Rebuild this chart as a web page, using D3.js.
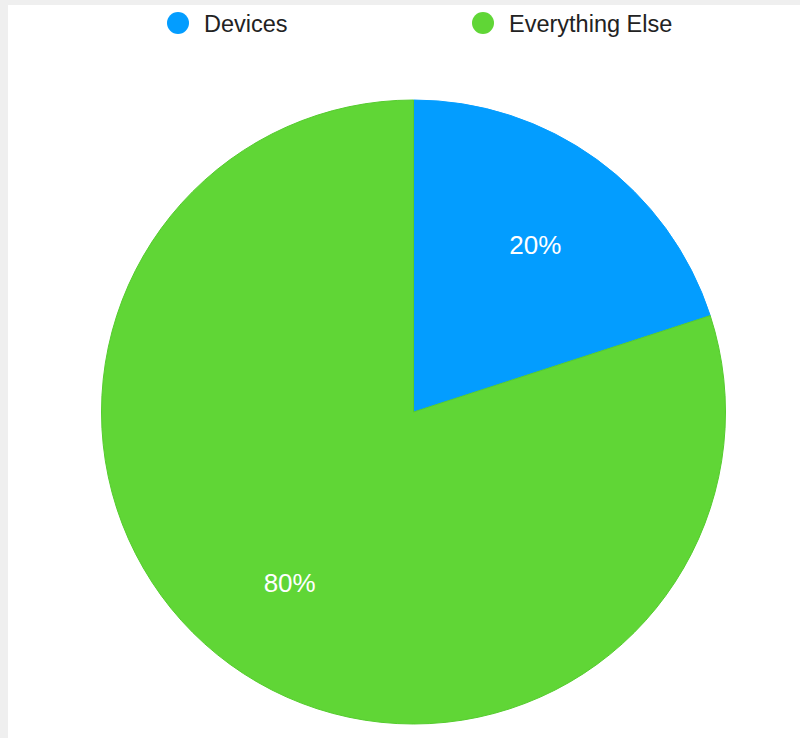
<!DOCTYPE html>
<html><head><meta charset="utf-8">
<script src="https://cdn.jsdelivr.net/npm/d3@7"></script>
<style>html,body{margin:0;padding:0;background:#efefef;}svg{display:block;}</style>
</head><body>
<svg id="c" width="800" height="738"></svg>
<script>
const categories = ["Devices", "Everything Else"];
const values = [20, 80];
const colors = ["#039dff", "#60d636"];
const strokes = ["#039dff", "#55cc2e"];

const svg = d3.select("#c");
svg.append("rect").attr("x", 8).attr("y", 5).attr("width", 792).attr("height", 733).attr("fill", "#ffffff");

const cx = 413.5, cy = 412, R = 312;
const pie = d3.pie().sort(null).value(d => d)(values);
const arc = d3.arc().innerRadius(0).outerRadius(R);
const labelArc = d3.arc().innerRadius(209).outerRadius(209);
const total = d3.sum(values);

const g = svg.append("g").attr("transform", `translate(${cx},${cy})`);
g.selectAll("path").data(pie).join("path")
  .attr("d", arc)
  .attr("fill", (d, i) => colors[i])
  .attr("stroke", (d, i) => strokes[i])
  .attr("stroke-width", 1);

g.selectAll("text").data(pie).join("text")
  .attr("transform", d => { const [x, y] = labelArc.centroid(d); return `translate(${x - 1},${y + 2})`; })
  .attr("text-anchor", "middle")
  .attr("dominant-baseline", "central")
  .attr("font-family", "Liberation Sans, Arial, sans-serif")
  .attr("font-size", 26)
  .attr("fill", "#ffffff")
  .text(d => Math.round(d.data / total * 100) + "%");

const legendX = [178, 483];
const lg = svg.append("g");
categories.forEach((c, i) => {
  lg.append("circle").attr("cx", legendX[i]).attr("cy", 23).attr("r", 11).attr("fill", colors[i]);
  lg.append("text").attr("x", legendX[i] + 26).attr("y", 24)
    .attr("dominant-baseline", "central")
    .attr("font-family", "Liberation Sans, Arial, sans-serif")
    .attr("font-size", 23.5)
    .attr("fill", "#222222")
    .text(c);
});
</script>
</body></html>
